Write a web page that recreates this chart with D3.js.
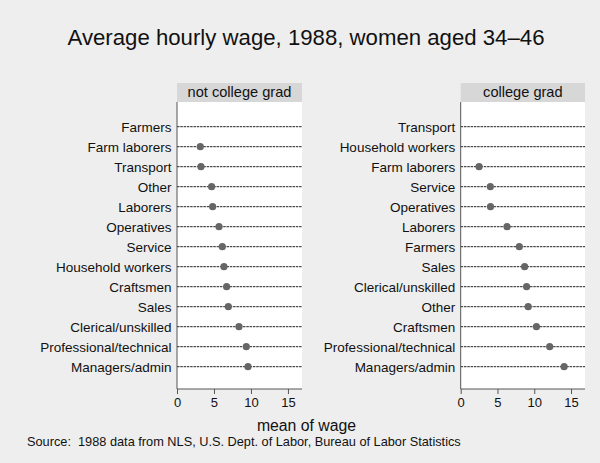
<!DOCTYPE html>
<html>
<head>
<meta charset="utf-8">
<script src="https://cdn.jsdelivr.net/npm/d3@7"></script>
<style>
  body { margin: 0; background: #eeeeee; }
  svg { display: block; font-family: "Liberation Sans", Arial, sans-serif; }
</style>
</head>
<body>
<svg id="chart" width="600" height="463"></svg>
<script>
// not college grad, rows from top to bottom
const notGradCats = ['Farmers', 'Farm laborers', 'Transport', 'Other', 'Laborers', 'Operatives',
  'Service', 'Household workers', 'Craftsmen', 'Sales', 'Clerical/unskilled',
  'Professional/technical', 'Managers/admin']
const notGradVals = [null, 3.15, 3.24, 4.68, 4.82, 5.68, 6.13, 6.35, 6.71, 6.94, 8.38, 9.37, 9.6]

// college grad
const gradCats = ['Transport', 'Household workers', 'Farm laborers', 'Service', 'Operatives',
  'Laborers', 'Farmers', 'Sales', 'Clerical/unskilled', 'Other', 'Craftsmen',
  'Professional/technical', 'Managers/admin']
const gradVals = [null, null, 2.5, 4.03, 4.05, 6.3, 7.97, 8.69, 8.96, 9.18, 10.3, 12.1, 14.06]

const xTicks = [0, 5, 10, 15]

const width = 600
const height = 463
const svg = d3.select('#chart')

svg.append('rect').attr('width', width).attr('height', height).attr('fill', '#eeeeee')

svg.append('text')
  .attr('x', 306).attr('y', 45)
  .attr('text-anchor', 'middle')
  .attr('font-size', 22.2)
  .attr('fill', '#111')
  .text('Average hourly wage, 1988, women aged 34\u201346')

const panelTop = 102
const panelBottom = 389

function drawPanel(x0, x1, title, cats, vals) {
  const g = svg.append('g')
  const x = d3.scaleLinear().domain([0, 16.9]).range([x0, x1])
  const y = d3.scalePoint().domain(cats).range([126.7, 366.7])

  // strip
  g.append('rect')
    .attr('x', x0).attr('y', 83).attr('width', x1 - x0).attr('height', panelTop - 83)
    .attr('fill', '#d7d7d7')
  g.append('text')
    .attr('x', (x0 + x1) / 2).attr('y', 97)
    .attr('text-anchor', 'middle').attr('font-size', 14.6).attr('fill', '#111')
    .text(title)

  // plot region
  g.append('rect')
    .attr('x', x0).attr('y', panelTop).attr('width', x1 - x0).attr('height', panelBottom - panelTop)
    .attr('fill', '#ffffff')

  // dotted lines
  g.selectAll('line.row')
    .data(cats)
    .join('line')
    .attr('class', 'row')
    .attr('x1', x0).attr('x2', x1)
    .attr('y1', (d) => y(d)).attr('y2', (d) => y(d))
    .attr('stroke', '#222')
    .attr('stroke-width', 1)
    .attr('stroke-dasharray', '2.5,0.8')

  // category labels
  g.selectAll('text.cat')
    .data(cats)
    .join('text')
    .attr('class', 'cat')
    .attr('x', x0 - 5.5).attr('y', (d) => y(d))
    .attr('dy', '0.36em')
    .attr('text-anchor', 'end')
    .attr('font-size', 13.5)
    .attr('fill', '#111')
    .text((d) => d)

  // dots
  g.selectAll('circle')
    .data(cats.map((c, i) => ({ c, v: vals[i] })).filter((d) => d.v != null))
    .join('circle')
    .attr('cx', (d) => x(d.v)).attr('cy', (d) => y(d.c))
    .attr('r', 3.6)
    .attr('fill', '#666666')

  // x axis
  const axis = g.append('g')
    .attr('transform', `translate(0,${panelBottom})`)
    .call(d3.axisBottom(x).tickValues(xTicks).tickSize(5).tickPadding(4))
  axis.select('.domain').attr('stroke', '#555').attr('d', `M${x0},0H${x1}`)
  axis.selectAll('.tick line').attr('stroke', '#555')
  axis.selectAll('.tick text')
    .attr('font-size', 13).attr('fill', '#111')
    .attr('font-family', '"Liberation Sans", Arial, sans-serif')

  // y axis line
  g.append('line')
    .attr('x1', x0).attr('x2', x0).attr('y1', panelTop).attr('y2', panelBottom)
    .attr('stroke', '#555')
}

drawPanel(177, 302, 'not college grad', notGradCats, notGradVals)
drawPanel(460.7, 585, 'college grad', gradCats, gradVals)

svg.append('text')
  .attr('x', 306.5).attr('y', 431)
  .attr('text-anchor', 'middle').attr('font-size', 15.8).attr('fill', '#111')
  .text('mean of wage')

svg.append('text')
  .attr('x', 27).attr('y', 446)
  .attr('font-size', 12.75).attr('fill', '#111')
  .attr('xml:space', 'preserve')
  .style('white-space', 'pre')
  .text('Source:  1988 data from NLS, U.S. Dept. of Labor, Bureau of Labor Statistics')
</script>
</body>
</html>
